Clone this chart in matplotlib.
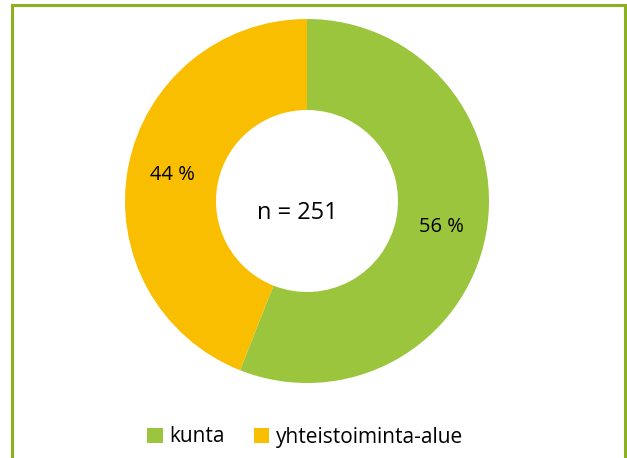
import matplotlib
matplotlib.use("Agg")
import matplotlib.pyplot as plt
from matplotlib.patches import Rectangle

categories = ["kunta", "yhteistoiminta-alue"]
values = [56, 44]
colors = ["#9BC53D", "#F9BE00"]
center_text = "n = 251"

W, H = 627, 458
fig = plt.figure(figsize=(W / 100, H / 100), dpi=100)
plt.rcParams['font.family'] = ['Open Sans', 'DejaVu Sans']
ax = fig.add_axes([0, 0, 1, 1])
ax.set_xlim(0, W)
ax.set_ylim(0, H)
ax.set_aspect('equal')
ax.axis('off')

cx, cy = 307, H - 201
wedges, texts, autotexts = ax.pie(
    values, colors=colors, startangle=90, counterclock=False,
    center=(cx, cy), radius=182,
    wedgeprops=dict(width=91, edgecolor='white', linewidth=0),
    autopct=lambda p: f"{p:.0f} %", pctdistance=0.75,
    textprops=dict(fontsize=14.5, color='#000000'))
ax.set_xlim(0, W)
ax.set_ylim(0, H)

ax.text(cx - 10, H - 213, center_text, ha='center', va='center', fontsize=17, color='#000000')

leg = fig.legend(wedges, categories, loc='center', bbox_to_anchor=(305 / W, 1 - 437 / H),
                 ncol=2, frameon=False, fontsize=15, handlelength=0.75, handleheight=0.75,
                 handletextpad=0.3, columnspacing=1.4)

fig.patches.append(Rectangle((11.5 / W, -0.05), (624.5 - 11.5) / W, 1.05 - 5.5 / H,
                             transform=fig.transFigure, fill=False,
                             edgecolor='#8DB021', linewidth=2.2, figure=fig))

fig.savefig("out.png", dpi=100, facecolor='white')
